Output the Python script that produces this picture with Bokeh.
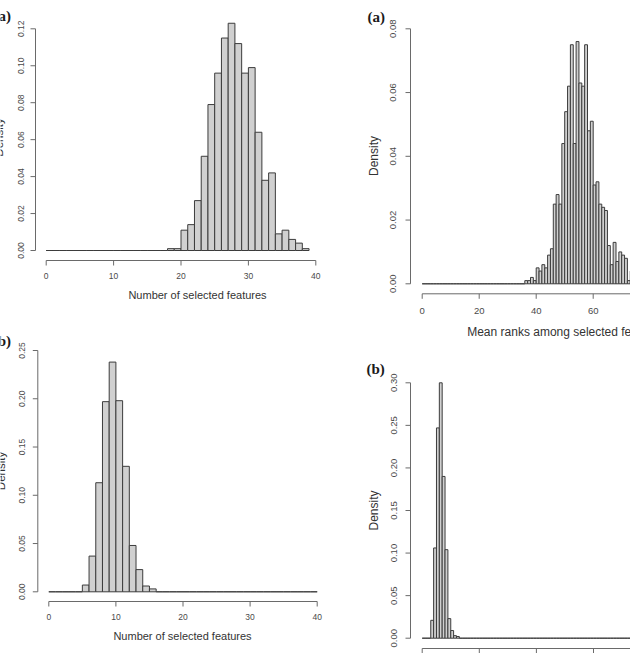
import math
from bokeh.plotting import figure
from bokeh.models import Range1d
from bokeh.layouts import row, column
from bokeh.core.properties import value
from bokeh.embed import file_html
from bokeh.resources import INLINE

# ---------------- data ----------------
# (a) left: number of selected features, bins of width 1 starting at 0
tl_bin_left = list(range(0, 39))
tl_density = [0.0] * 18 + [0.001, 0.001, 0.011, 0.014, 0.027, 0.051, 0.079, 0.096,
                           0.115, 0.123, 0.112, 0.096, 0.099, 0.064, 0.038, 0.042,
                           0.009, 0.011, 0.006, 0.004, 0.001]
tl_xticks = [0, 10, 20, 30, 40]
tl_yticks = [0.00, 0.02, 0.04, 0.06, 0.08, 0.10, 0.12]

# (a) right: mean ranks among selected features
tr_bin_left = list(range(0, 76))
tr_density = [0.0] * 36 + [0.001, 0.001, 0.002, 0.001, 0.005, 0.004, 0.006, 0.005,
                           0.009, 0.011, 0.025, 0.028, 0.025, 0.044, 0.054, 0.062,
                           0.075, 0.044, 0.076, 0.063, 0.062, 0.075, 0.048, 0.051,
                           0.031, 0.032, 0.025, 0.024, 0.023, 0.012, 0.006, 0.013,
                           0.007, 0.010, 0.009, 0.008, 0.001, 0.004, 0.003, 0.002]
tr_xticks = [0, 20, 40, 60, 80]
tr_yticks = [0.00, 0.02, 0.04, 0.06, 0.08]

# (b) left: number of selected features
bl_bin_left = list(range(0, 40))
bl_density = [0.0] * 5 + [0.007, 0.037, 0.113, 0.197, 0.238, 0.198, 0.130, 0.048,
                          0.023, 0.006, 0.003] + [0.0] * 24
bl_xticks = [0, 10, 20, 30, 40]
bl_yticks = [0.00, 0.05, 0.10, 0.15, 0.20, 0.25]

# (b) right: mean ranks among selected features
br_bin_left = list(range(0, 80))
br_density = [0.0] * 3 + [0.021, 0.106, 0.247, 0.300, 0.190, 0.104, 0.023, 0.009,
                          0.003, 0.002] + [0.0] * 67
br_xticks = [0, 20, 40, 60, 80]
br_yticks = [0.00, 0.05, 0.10, 0.15, 0.20, 0.25, 0.30]

xlab_left = "Number of selected features"
xlab_right = "Mean ranks among selected features"
ylab = "Density"

SANS = "Liberation Sans"
SERIF = "Liberation Serif"
FILL = "#d0d0d0"
EDGE = "#3c3c3c"
AXIS = "#6a6a6a"
TICKTXT = "#4a4a4a"
TITLETXT = "#333333"


class Panel:
    """A figure whose frame fills its whole canvas; pixel anchors set the scales."""

    def __init__(self, width, height, xanchor, yanchor):
        (xv1, xp1), (xv2, xp2) = xanchor
        (yv1, yp1), (yv2, yp2) = yanchor
        self.sx = (xp2 - xp1) / (xv2 - xv1)
        self.sy = (yp2 - yp1) / (yv2 - yv1)
        self.xv1, self.xp1, self.yv1, self.yp1 = xv1, xp1, yv1, yp1
        p = figure(width=width, height=height,
                   x_range=Range1d(self.X(0), self.X(width)),
                   y_range=Range1d(self.Y(height), self.Y(0)),
                   min_border=0, x_axis_location=None, y_axis_location=None,
                   output_backend="svg", toolbar_location=None)
        p.outline_line_color = None
        p.grid.visible = False
        p.background_fill_color = "white"
        p.border_fill_color = "white"
        self.p = p

    def X(self, px):
        return self.xv1 + (px - self.xp1) / self.sx

    def Y(self, py):
        return self.yv1 + (py - self.yp1) / self.sy

    def bars(self, bin_left, density):
        rights = [b + 1 for b in bin_left]
        self.p.quad(left=bin_left, right=rights, bottom=0, top=density,
                    fill_color=FILL, line_color=EDGE, line_width=1)

    def text(self, px, py, txt, font=SANS, size="11px", style="normal",
             align="center", angle=0.0, color=TITLETXT):
        self.p.text(x=[self.X(px)], y=[self.Y(py)], text=[txt],
                    text_font=value(font), text_font_size=value(size),
                    text_font_style=style, text_align=align,
                    text_baseline="middle", angle=angle, text_color=color)

    def xaxis(self, ticks, bounds, axis_py, label_py, size, labels=True):
        ya = self.Y(axis_py)
        yt = self.Y(axis_py + 5)
        self.p.segment(x0=[bounds[0]], y0=[ya], x1=[bounds[1]], y1=[ya],
                       line_color=AXIS, line_width=1)
        self.p.segment(x0=ticks, y0=[ya] * len(ticks), x1=ticks,
                       y1=[yt] * len(ticks), line_color=AXIS, line_width=1)
        if labels:
            self.p.text(x=ticks, y=[self.Y(label_py)] * len(ticks),
                        text=[f"{t:g}" for t in ticks],
                        text_font=value(SANS), text_font_size=value(size),
                        text_align="center", text_baseline="middle",
                        text_color=TICKTXT)

    def yaxis(self, ticks, bounds, axis_px, label_px, size):
        xa = self.X(axis_px)
        xt = self.X(axis_px - 5)
        self.p.segment(x0=[xa], y0=[bounds[0]], x1=[xa], y1=[bounds[1]],
                       line_color=AXIS, line_width=1)
        self.p.segment(x0=[xa] * len(ticks), y0=ticks, x1=[xt] * len(ticks),
                       y1=ticks, line_color=AXIS, line_width=1)
        self.p.text(x=[self.X(label_px)] * len(ticks), y=ticks,
                    text=[f"{t:.2f}" for t in ticks],
                    text_font=value(SANS), text_font_size=value(size),
                    text_align="center", text_baseline="middle",
                    angle=math.pi / 2, text_color=TICKTXT)


# ---- top left: (a) number of selected features ----
tl = Panel(330, 320, ((0, 45.7), (40, 315.3)), ((0.0, 250.0), (0.12, 28.3)))
tl.bars(tl_bin_left, tl_density)
tl.xaxis(tl_xticks, (0, 40), 260, 275, "8.5px")
tl.yaxis(tl_yticks, (0, 0.12), 35, 20, "8.5px")
tl.text(10.5, 15, "(a)", SERIF, "15px", "bold", "right", color="#1a1a1a")
tl.text(-2, 137, ylab, size="11.5px", angle=math.pi / 2)
tl.text(197, 294, xlab_left, size="11px")

# ---- top right: (a) mean ranks ----
tr = Panel(300, 345, ((0, 91.7), (60, 262.7)), ((0.0, 283.3), (0.08, 28.3)))
tr.bars(tr_bin_left, tr_density)
tr.xaxis(tr_xticks, (0, 80), 293.3, 310, "9.5px")
tr.yaxis(tr_yticks, (0, 0.08), 80, 62.5, "9.5px")
tr.text(37, 16, "(a)", SERIF, "15px", "bold", "left", color="#1a1a1a")
tr.text(43, 155.5, ylab, size="12px", angle=math.pi / 2)
tr.text(136.7, 331, xlab_right, size="12px", align="left")

# ---- bottom left: (b) number of selected features ----
bl = Panel(330, 333, ((0, 48.3), (40, 316.7)), ((0.0, 271.3), (0.25, 30.0)))
bl.bars(bl_bin_left, bl_density)
bl.xaxis(bl_xticks, (0, 40), 281, 296, "8.5px")
bl.yaxis(bl_yticks, (0, 0.25), 37.3, 21, "8.5px")
bl.text(10.5, 20, "(b)", SERIF, "15px", "bold", "right", color="#1a1a1a")
bl.text(0, 150.5, ylab, size="11.5px", angle=math.pi / 2)
bl.text(182, 315, xlab_left, size="11px")

# ---- bottom right: (b) mean ranks ----
br = Panel(300, 308, ((0, 91.7), (60, 263.0)), ((0.0, 292.7), (0.30, 37.3)))
br.bars(br_bin_left, br_density)
br.xaxis(br_xticks, (0, 80), 303, 318, "9.5px", labels=False)
br.yaxis(br_yticks, (0, 0.30), 80, 63, "9.5px")
br.text(36, 23, "(b)", SERIF, "15px", "bold", "left", color="#1a1a1a")
br.text(43, 165, ylab, size="12px", angle=math.pi / 2)

layout = row(column(tl.p, bl.p), column(tr.p, br.p))

open("out.html", "w").write(file_html(layout, INLINE))
